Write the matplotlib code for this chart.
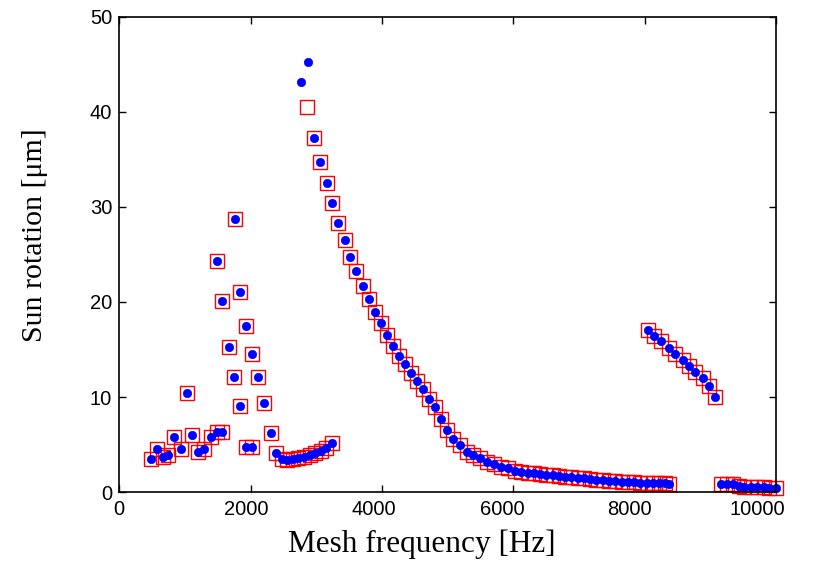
import matplotlib
matplotlib.use("Agg")
import matplotlib.pyplot as plt
from matplotlib.transforms import ScaledTranslation

# Points shown with both a blue dot and a red square
common_freq = [482, 574, 665, 751, 842, 939, 1030, 1116, 1207, 1297, 1400,
               1487, 1487, 1573, 1573, 1665, 1756, 1761, 1847, 1847,
               1938, 1938, 2030, 2030, 2121, 2212, 2309, 2390,
               2476, 2560, 2645, 2730, 2815, 2900, 2985, 3070, 3155, 3240,
               2973, 3064, 3161, 3247, 3338, 3435, 3521, 3612, 3709, 3800,
               3892, 3988, 4074, 4166, 4262, 4348, 4440, 4536, 4622, 4714,
               4805, 4896, 4988, 5079, 5190, 5292, 5393, 5495, 5596, 5708,
               5814, 5916, 6027,
               6122, 6218, 6313, 6408, 6504, 6599, 6695, 6790, 6885, 6981,
               7076, 7172, 7267, 7362, 7458, 7553, 7649, 7744, 7839, 7935,
               8030, 8126, 8221, 8316, 8376,
               8056, 8148, 8245, 8371, 8463, 8580, 8671, 8772, 8884, 8976, 9067,
               9160, 9250, 9340, 9430, 9520, 9620, 9710, 9810, 9900, 10000]
common_val = [3.44, 4.49, 3.72, 3.9, 5.76, 4.49, 10.42, 5.97, 4.24, 4.49, 5.76,
              6.35, 24.3, 6.35, 20.07, 15.26, 12.07, 28.7, 9.09, 21.1,
              4.7, 17.5, 4.7, 14.56, 12.07, 9.37, 6.18, 4.1,
              3.5, 3.42, 3.45, 3.55, 3.7, 3.9, 4.1, 4.35, 4.65, 5.12,
              37.3, 34.77, 32.5, 30.4, 28.3, 26.5, 24.7, 23.26, 21.7, 20.3,
              18.98, 17.76, 16.5, 15.4, 14.35, 13.5, 12.5, 11.65, 10.8, 9.76,
              8.92, 7.65, 6.53, 5.55, 4.95, 4.24, 3.9, 3.55, 3.19, 2.92,
              2.66, 2.5, 2.24,
              2.15, 2.05, 1.98, 1.9, 1.82, 1.75, 1.68, 1.62, 1.56, 1.5,
              1.43, 1.37, 1.31, 1.25, 1.2, 1.15, 1.1, 1.05, 1.01, 0.98,
              0.95, 0.93, 0.92, 0.91, 0.9,
              17.1, 16.45, 15.85, 15.2, 14.56, 13.9, 13.3, 12.66, 12.03, 11.2, 9.97,
              0.84, 0.84, 0.8, 0.6, 0.55, 0.52, 0.5, 0.5, 0.48, 0.48]

# Points shown only as blue dots
dots_only_freq = [2765, 2882]
dots_only_val = [43.2, 45.3]

# Points shown only as red squares
squares_only_freq = [2866]
squares_only_val = [40.56]

x_ticks = [0, 2000, 4000, 6000, 8000, 10000]
y_ticks = [0, 10, 20, 30, 40, 50]

fig = plt.figure(figsize=(8.16, 5.63), dpi=100)
ax = fig.add_axes([0.146, 0.126, 0.805, 0.844])

ax.plot(common_freq + squares_only_freq, common_val + squares_only_val,
        linestyle='none', marker='s', markersize=10.3, markerfacecolor='none',
        markeredgecolor='red', markeredgewidth=1.0, clip_on=False)
ax.plot(common_freq + dots_only_freq, common_val + dots_only_val,
        linestyle='none', marker='o', markersize=6.0, markerfacecolor='blue',
        markeredgecolor='blue', markeredgewidth=0.5, clip_on=False)

ax.set_xlim(0, 10000)
ax.set_ylim(0, 50)
ax.set_xticks(x_ticks)
ax.set_yticks(y_ticks)
ax.set_xticklabels([str(t) for t in x_ticks])
ax.set_yticklabels([str(t) for t in y_ticks])
ax.tick_params(direction='in', length=5, width=1, top=True, right=True,
               labelsize=14.5)
ax.tick_params(axis='x', pad=6)
ax.tick_params(axis='y', pad=5)
for lab in ax.get_xticklabels() + ax.get_yticklabels():
    lab.set_fontfamily('Liberation Sans')
# x tick labels in the reference sit progressively left of their ticks
for t, lab in zip(x_ticks, ax.get_xticklabels()):
    dx = -(t / 10000) * 19 / 100
    lab.set_transform(lab.get_transform() + ScaledTranslation(dx, 0, fig.dpi_scale_trans))
for sp in ax.spines.values():
    sp.set_linewidth(1.2)

ax.set_xlabel('Mesh frequency [Hz]', fontfamily='Liberation Serif', fontsize=22.5)
ax.set_ylabel('Sun rotation [μm]', fontfamily='Liberation Serif', fontsize=21.5)
ax.xaxis.set_label_coords(0.461, -0.078)
ax.yaxis.set_label_coords(-0.109, 0.541)

fig.savefig('out.png', dpi=100)
